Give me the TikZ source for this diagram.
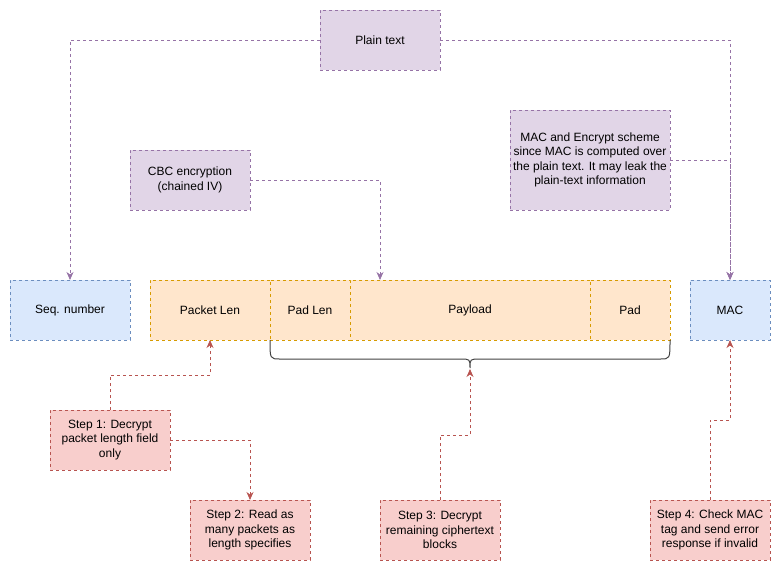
\documentclass[tikz,border=0pt]{standalone}
\usepackage{fontspec}
\setmainfont{Liberation Sans}
\usetikzlibrary{arrows.meta}
\definecolor{purplefill}{HTML}{E1D5E7}
\definecolor{purpleline}{HTML}{9673A6}
\definecolor{bluefill}{HTML}{DAE8FC}
\definecolor{blueline}{HTML}{6C8EBF}
\definecolor{orangefill}{HTML}{FFE6CC}
\definecolor{orangeline}{HTML}{D79B00}
\definecolor{redfill}{HTML}{F8CECC}
\definecolor{redline}{HTML}{B85450}
\begin{document}
\begin{tikzpicture}[x=1pt, y=-1pt, font=\fontsize{12}{14.5}\selectfont,
		box/.style={draw, line width=0.8pt, dash pattern=on 3pt off 3pt, align=center,
			inner sep=0pt, outer sep=0pt, minimum height=60pt},
		purplebox/.style={box, fill=purplefill, draw=purpleline},
		bluebox/.style={box, fill=bluefill, draw=blueline},
		orangebox/.style={box, fill=orangefill, draw=orangeline},
		redbox/.style={box, fill=redfill, draw=redline, minimum width=120pt},
		link/.style={line width=0.8pt, dash pattern=on 3pt off 3pt,
			-{Stealth[length=8pt, width=7pt, inset=2.5pt]}},
		purplelink/.style={link, draw=purpleline},
		redlink/.style={link, draw=redline}]
		\useasboundingbox (0,0) rectangle (781,571);
		% notes
		\node[purplebox, minimum width=120pt] (plain) at (380,40) {Plain text};
		\node[purplebox, minimum width=120pt] (cbc) at (190,180) {CBC encryption\\(chained IV)};
		\node[purplebox, minimum width=160pt, minimum height=100pt] (note) at (590,160)
		{MAC and Encrypt scheme\\since MAC is computed over\\the plain text. It may leak the\\plain-text information};
		
		% packet fields
		\node[bluebox, minimum width=120pt] (seq) at (70,310) {Seq. number};
		\node[orangebox, minimum width=120pt] (plen) at (210,310) {Packet Len};
		\node[orangebox, minimum width=80pt] (padlen) at (310,310) {Pad Len};
		\node[orangebox, minimum width=240pt] (payload) at (470,310) {Payload};
		\node[orangebox, minimum width=80pt] (pad) at (630,310) {Pad};
		\node[bluebox, minimum width=80pt] (mac) at (730,310) {MAC};
		
		% brace under the encrypted part
		\draw[line width=1pt, black!75] (padlen.south west) .. controls (270,359) .. (280,359)
		-- (460,359) .. controls (470,359) .. (470,368)
		.. controls (470,359) .. (480,359) -- (660,359) .. controls (670,359) .. (pad.south east);
		\coordinate (brace) at (470,369);
		
		% steps
		\node[redbox] (step1) at (110,440) {Step 1: Decrypt\\packet length field\\only};
		\node[redbox] (step2) at (250,530) {Step 2: Read as\\many packets as\\length specifies};
		\node[redbox] (step3) at (440,530) {Step 3: Decrypt\\remaining ciphertext\\blocks};
		\node[redbox] (step4) at (710,530) {Step 4: Check MAC\\tag and send error\\response if invalid};
		
		% bends
		\coordinate (cbcin) at (380,280);
		\coordinate (bend1) at (110,375);
		\coordinate (bend3) at (440,435);
		\coordinate (bend4) at (710,420);
		
		% connectors
		\draw[purplelink] (plain.west) -| (seq.north);
		\draw[purplelink] (plain.east) -| (mac.north);
		\draw[purplelink] (note.east) -| (mac.north);
		\draw[purplelink] (cbc.east) -| (cbcin);
		\draw[redlink] (step1.north) -- (bend1) -| (plen.south);
		\draw[redlink] (step1.east) -| (step2.north);
		\draw[redlink] (step3.north) -- (bend3) -| (brace);
		\draw[redlink] (step4.north) -- (bend4) -| (mac.south);
\end{tikzpicture}
\end{document}
